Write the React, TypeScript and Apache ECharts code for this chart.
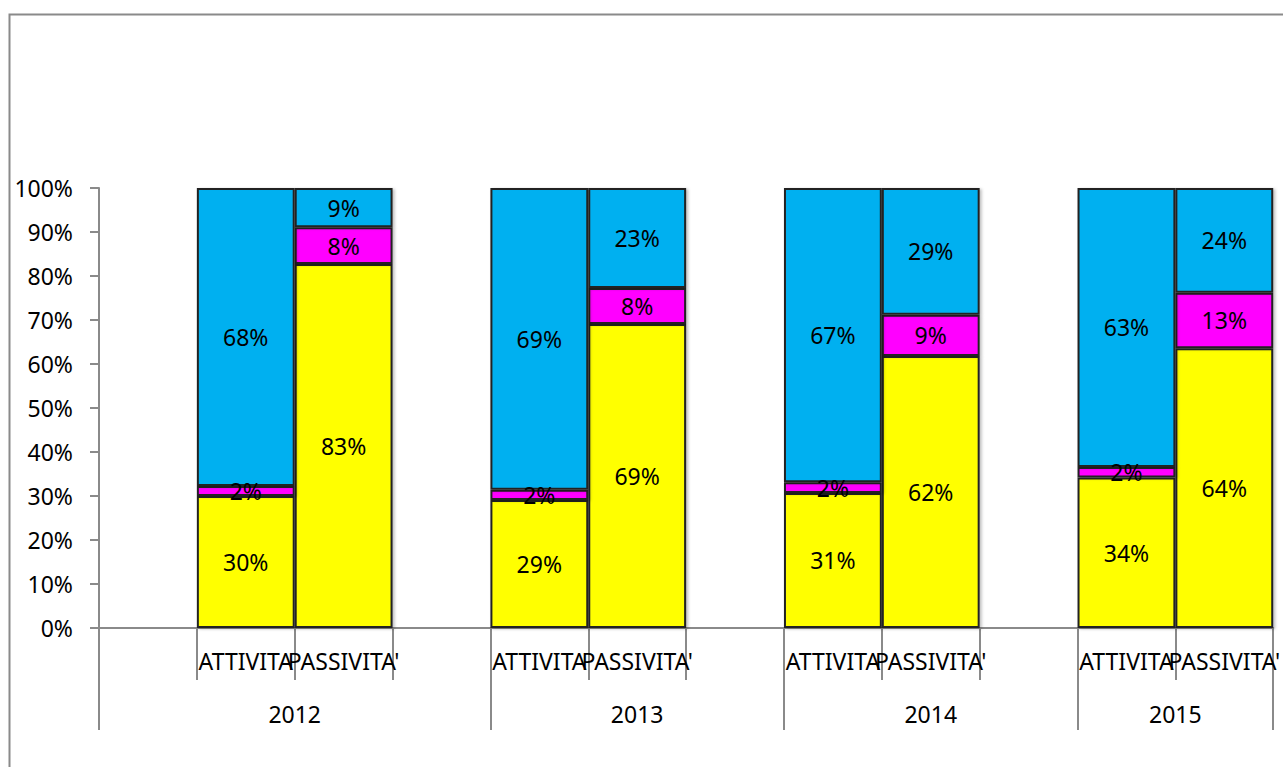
import React, { useEffect, useRef } from "react";
import * as echarts from "echarts";

const years = ["2012", "2013", "2014", "2015"];
// number of category slots belonging to each year group (blank slots are spacers)
const yearSlots = [4, 3, 3, 2];
const categories = ["", "ATTIVITA", "PASSIVITA'", "", "ATTIVITA", "PASSIVITA'", "", "ATTIVITA", "PASSIVITA'", "", "ATTIVITA", "PASSIVITA'"];
const yellowValues = [null, 30.0, 82.7, null, 29.1, 69.1, null, 30.7, 61.8, null, 34.2, 63.6];
const magentaValues = [null, 2.3, 8.4, null, 2.3, 8.2, null, 2.4, 9.4, null, 2.4, 12.6];
const blueValues = [null, 67.7, 8.9, null, 68.6, 22.7, null, 66.9, 28.8, null, 63.4, 23.8];
const yTicks = [0, 10, 20, 30, 40, 50, 60, 70, 80, 90, 100];

const FONT = "Noto Sans";
const FS = 23;
const AXIS_COLOR = "#8a8a8a";

export default function App() {
  const ref = useRef<HTMLDivElement>(null);
  useEffect(() => {
    if (!ref.current) return;
    const chart = echarts.init(ref.current, null, { renderer: "svg" });

    const bounds: number[] = [0];
    yearSlots.forEach((n) => bounds.push(bounds[bounds.length - 1] + n));
    const centers = yearSlots.map((_, i) => (bounds[i] + bounds[i + 1]) / 2);

    const barStyle = (color: string) => ({
      color,
      borderColor: "#222",
      borderWidth: 2,
      shadowColor: "rgba(0,0,0,0.25)",
      shadowBlur: 3,
      shadowOffsetX: 2,
      shadowOffsetY: 1,
    });
    const label = {
      show: true,
      position: "inside",
      color: "#000",
      fontFamily: FONT,
      fontSize: FS,
      formatter: (p: any) => Math.round(p.value) + "%",
    };
    const mk = (name: string, data: (number | null)[], color: string) => ({
      name,
      type: "bar",
      stack: "total",
      data,
      barWidth: "100%",
      barCategoryGap: 0,
      itemStyle: barStyle(color),
      label,
      xAxisIndex: 0,
    });

    chart.setOption({
      animation: false,
      backgroundColor: "#fff",
      grid: { left: 99, top: 188, width: 1176, height: 440, containLabel: false },
      xAxis: [
        {
          type: "category",
          data: categories,
          position: "bottom",
          axisLine: { show: true, lineStyle: { color: AXIS_COLOR, width: 2 } },
          axisTick: { show: true, interval: 0, length: 52, lineStyle: { color: AXIS_COLOR, width: 2 } },
          axisLabel: { interval: 0, color: "#000", fontFamily: FONT, fontSize: FS, margin: 21 },
          splitLine: { show: false },
        },
        {
          type: "value",
          min: 0,
          max: categories.length,
          position: "bottom",
          offset: 52,
          axisLine: { show: false },
          axisTick: { show: true, customValues: bounds, length: 50, lineStyle: { color: AXIS_COLOR, width: 2 } },
          axisLabel: {
            customValues: centers,
            color: "#000",
            fontFamily: FONT,
            fontSize: FS,
            margin: 22,
            formatter: (v: number) => {
              const i = centers.findIndex((c) => Math.abs(c - v) < 1e-6);
              return i >= 0 ? years[i] : "";
            },
          },
          splitLine: { show: false },
        },
      ],
      yAxis: {
        type: "value",
        min: yTicks[0],
        max: yTicks[yTicks.length - 1],
        interval: 10,
        axisLine: { show: true, lineStyle: { color: AXIS_COLOR, width: 2 } },
        axisTick: { show: true, length: 9, lineStyle: { color: AXIS_COLOR, width: 2 } },
        axisLabel: { color: "#000", fontFamily: FONT, fontSize: FS, margin: 26, formatter: "{value}%" },
        splitLine: { show: false },
      },
      graphic: [
        {
          type: "rect",
          shape: { x: 9.5, y: 14.5, width: 1400, height: 900 },
          style: { fill: "none", stroke: AXIS_COLOR, lineWidth: 2 },
          silent: true,
        },
      ],
      series: [
        mk("yellow", yellowValues, "#FFFF00"),
        mk("magenta", magentaValues, "#FF00FF"),
        mk("blue", blueValues, "#00B0F0"),
      ],
    });
    return () => chart.dispose();
  }, []);
  return <div ref={ref} style={{ position: "fixed", left: 0, top: 0, width: 1283, height: 767 }} />;
}
